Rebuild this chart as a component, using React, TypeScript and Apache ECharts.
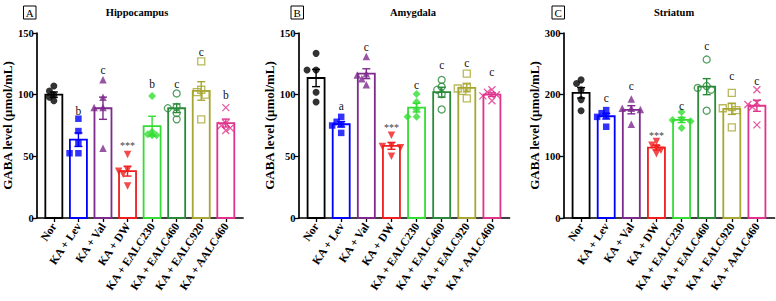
import React, { useEffect, useRef } from 'react';
import * as echarts from 'echarts';

const categories = ['Nor', 'KA + Lev', 'KA + Val', 'KA + DW', 'KA + EALC230', 'KA + EALC460', 'KA + EALC920', 'KA + AALC460'];
const panelTitles = ['Hippocampus', 'Amygdala', 'Striatum'];
const panelTags = ['A', 'B', 'C'];
const yMax = [150, 150, 300];
const yStep = [50, 50, 100];

// Panel A – Hippocampus
const meansA = [100, 63.5, 89, 38, 74.5, 89, 103, 77];
const semsA = [2.2, 5.5, 9, 4, 8, 3.5, 7.5, 3.2];
const pointsA = [
  [107, 103, 100, 98, 95],
  [80.5, 70.5, 61, 52.5, 52.5],
  [112, 98, 89.5, 89.5, 56.5],
  [51.5, 39, 38, 35.5, 26],
  [99, 70, 68, 67, 67],
  [101, 90, 89, 85, 80],
  [127, 104, 102, 100, 80],
  [89.5, 77, 75, 73, 71],
];
const lettersA = ['', 'b', 'c', '***', 'b', 'c', 'c', 'b'];
const letterYA = [0, 87, 120, 59, 109, 109, 135, 100];

// Panel B – Amygdala
const meansB = [113.5, 76, 117, 58.5, 89.5, 102, 105.5, 100];
const semsB = [7, 2.2, 4, 2.8, 3.5, 4, 3.2, 1.5];
const pointsB = [
  [133.5, 120, 120, 102, 94],
  [82, 78, 76, 75, 69],
  [131, 117, 116, 113, 108],
  [67, 58.5, 58, 57, 50],
  [100.5, 94, 88, 82, 82],
  [112, 106.5, 104, 100.5, 88],
  [117, 106.5, 105, 103, 97],
  [104, 102, 100, 99, 95],
];
const lettersB = ['', 'a', 'c', '***', 'c', 'c', 'c', 'c'];
const letterYB = [0, 91, 139, 73, 108, 124, 125.5, 118.5];

// Panel C – Striatum
const meansC = [203, 165, 175.5, 114, 159, 213, 177, 182];
const semsC = [8.5, 4.5, 6.6, 3.4, 4.2, 13, 9, 9];
const pointsC = [
  [224, 218, 208, 192, 174],
  [175, 170, 166, 164, 148],
  [193, 178, 178, 176, 152],
  [124, 118, 114, 110, 104],
  [172, 160, 159, 157, 146],
  [257, 214, 211, 208, 174],
  [203, 180, 178, 175, 147],
  [208, 187, 184, 180, 151],
];
const lettersC = ['', 'c', 'c', '***', 'c', 'c', 'c', 'c'];
const letterYC = [0, 194, 214.5, 133, 181.5, 279, 230, 222];

const colors = ['#000000', '#0000ff', '#7d2a8c', '#f01e1e', '#33dd33', '#2a8a3a', '#a8a632', '#e0338c'];
const FONT = 'Liberation Serif';

const symbols = [
  { symbol: 'circle', size: 7, filled: true },
  { symbol: 'rect', size: 6.5, filled: true },
  { symbol: 'triangle', size: 7.5, filled: true },
  { symbol: 'path://M0,0L10,0L5,9Z', size: 7.5, filled: true },
  { symbol: 'diamond', size: 8, filled: true },
  { symbol: 'circle', size: 7, filled: false },
  { symbol: 'rect', size: 7, filled: false },
  { symbol: 'path://M0,0L10,10M10,0L0,10', size: 7, filled: false },
];

const panels = [
  { means: meansA, sems: semsA, points: pointsA, letters: lettersA, letterY: letterYA },
  { means: meansB, sems: semsB, points: pointsB, letters: lettersB, letterY: letterYB },
  { means: meansC, sems: semsC, points: pointsC, letters: lettersC, letterY: letterYC },
];

const gridLeft = [33, 298.5, 563.5];
const gridWidth = [210, 211, 211];

// horizontal spread of overlapping points (beeswarm-like layout)
function swarm(vals: number[], range: number): number[] {
  const ppu = 185 / range;
  const d = 5;
  const cand = [0, -1, 1, -2, 2];
  const placed: number[][] = [];
  return vals.map((v) => {
    const y = v * ppu;
    for (const c of cand) {
      const x = c * 4.5;
      if (placed.every((p) => Math.hypot(p[0] - x, p[1] - y) >= d)) {
        placed.push([x, y]);
        return x / 25;
      }
    }
    placed.push([0, y]);
    return 0;
  });
}

export default function App() {
  const ref = useRef<HTMLDivElement>(null);
  useEffect(() => {
    document.body.style.margin = '0';
    if (!ref.current) return;
    const chart = echarts.init(ref.current, undefined, { renderer: 'svg' });

    const grids: any[] = [];
    const xAxes: any[] = [];
    const yAxes: any[] = [];
    const series: any[] = [];
    const graphics: any[] = [];
    const titleX = [137, 413, 674];
    const tagX = [23.5, 291, 552];

    panels.forEach((p, k) => {
      grids.push({ left: gridLeft[k], width: gridWidth[k], top: 33, height: 185 });
      xAxes.push({
        type: 'value', gridIndex: k, min: -0.7, max: 7.7,
        splitLine: { show: false },
        axisLine: { show: true, onZero: false, lineStyle: { color: '#000', width: 1.7 } },
        axisTick: { show: true, length: 4, lineStyle: { color: '#000', width: 1.3 }, customValues: [0, 1, 2, 3, 4, 5, 6, 7] },
        axisLabel: {
          customValues: [0, 1, 2, 3, 4, 5, 6, 7],
          formatter: (v: number) => categories[Math.round(v)] ?? '',
          rotate: 56, margin: 6, color: '#000',
          fontFamily: FONT, fontWeight: 'bold', fontSize: 11.5,
        },
      });
      yAxes.push({
        type: 'value', gridIndex: k, min: 0, max: yMax[k], interval: yStep[k],
        splitLine: { show: false },
        axisLine: { show: true, onZero: false, lineStyle: { color: '#000', width: 1.7 } },
        axisTick: { show: true, length: 4, lineStyle: { color: '#000', width: 1.3 } },
        axisLabel: { color: '#000', fontFamily: FONT, fontWeight: 'bold', fontSize: 10.5, margin: 3 },
        name: 'GABA level (μmol/mL)', nameLocation: 'middle', nameGap: 20,
        nameTextStyle: { color: '#000', fontFamily: FONT, fontWeight: 'bold', fontSize: 13 },
      });

      // bars (white fill, coloured outline)
      series.push({
        type: 'custom', xAxisIndex: k, yAxisIndex: k, z: 1,
        encode: { x: 0, y: 1 },
        data: p.means.map((m, i) => [i, m]),
        renderItem: (params: any, api: any) => {
          const i = api.value(0), m = api.value(1);
          const base = api.coord([i, 0]);
          const top = api.coord([i, m]);
          const w = 17;
          return {
            type: 'rect',
            shape: { x: base[0] - w / 2, y: top[1], width: w, height: base[1] - top[1] },
            style: { fill: '#ffffff', stroke: colors[i], lineWidth: 1.8 },
          };
        },
      });

      p.points.forEach((vals, i) => {
        const off = swarm(vals, yMax[k]);
        const s = symbols[i];
        series.push({
          type: 'scatter', xAxisIndex: k, yAxisIndex: k, z: 3,
          symbol: s.symbol, symbolSize: s.size,
          itemStyle: s.filled
            ? { color: colors[i] }
            : { color: 'rgba(255,255,255,0)', borderColor: colors[i], borderWidth: 1.3 },
          data: vals.map((v, j) => [i + off[j], v]),
        });
      });

      // error bars (mean ± SEM)
      series.push({
        type: 'custom', xAxisIndex: k, yAxisIndex: k, z: 4,
        encode: { x: 0, y: 1 },
        data: p.means.map((m, i) => [i, m, p.sems[i]]),
        renderItem: (params: any, api: any) => {
          const x = api.value(0), m = api.value(1), s = api.value(2);
          const top = api.coord([x, m + s]);
          const bot = api.coord([x, m - s]);
          const hw = 4;
          const st = { stroke: colors[x], lineWidth: 1.4 };
          return {
            type: 'group',
            children: [
              { type: 'line', shape: { x1: top[0], y1: top[1], x2: bot[0], y2: bot[1] }, style: st },
              { type: 'line', shape: { x1: top[0] - hw, y1: top[1], x2: top[0] + hw, y2: top[1] }, style: st },
              { type: 'line', shape: { x1: bot[0] - hw, y1: bot[1], x2: bot[0] + hw, y2: bot[1] }, style: st },
            ],
          };
        },
      });

      // significance letters
      const letters = p.letters;
      series.push({
        type: 'custom', xAxisIndex: k, yAxisIndex: k, z: 5,
        encode: { x: 0, y: 1 },
        data: letters.map((l, i) => [i, p.letterY[i]]).filter((d) => letters[d[0]] !== ''),
        renderItem: (params: any, api: any) => {
          const i = api.value(0), y = api.value(1);
          const pt = api.coord([i, y]);
          const txt = letters[i];
          const star = txt === '***';
          return {
            type: 'text', x: pt[0], y: pt[1],
            style: {
              text: txt, fill: star ? '#444' : '#111',
              font: `${star ? 10 : 11.5}px ${FONT}`,
              align: 'center', verticalAlign: 'middle',
            },
          };
        },
      });

      graphics.push({
        type: 'text', x: titleX[k], y: 12,
        style: { text: panelTitles[k], font: `bold 10.5px ${FONT}`, fill: '#000', align: 'center', verticalAlign: 'middle' },
      });
      graphics.push({
        type: 'rect', shape: { x: tagX[k], y: 6, width: 12.5, height: 13 },
        style: { fill: '#fff', stroke: '#000', lineWidth: 1 },
      });
      graphics.push({
        type: 'text', x: tagX[k] + 6.25, y: 12.8,
        style: { text: panelTags[k], font: `11px ${FONT}`, fill: '#000', align: 'center', verticalAlign: 'middle' },
      });
    });

    chart.setOption({
      animation: false,
      backgroundColor: '#ffffff',
      grid: grids,
      xAxis: xAxes,
      yAxis: yAxes,
      series,
      graphic: graphics,
    });
    return () => chart.dispose();
  }, []);
  return <div ref={ref} style={{ width: 776, height: 301 }} />;
}
